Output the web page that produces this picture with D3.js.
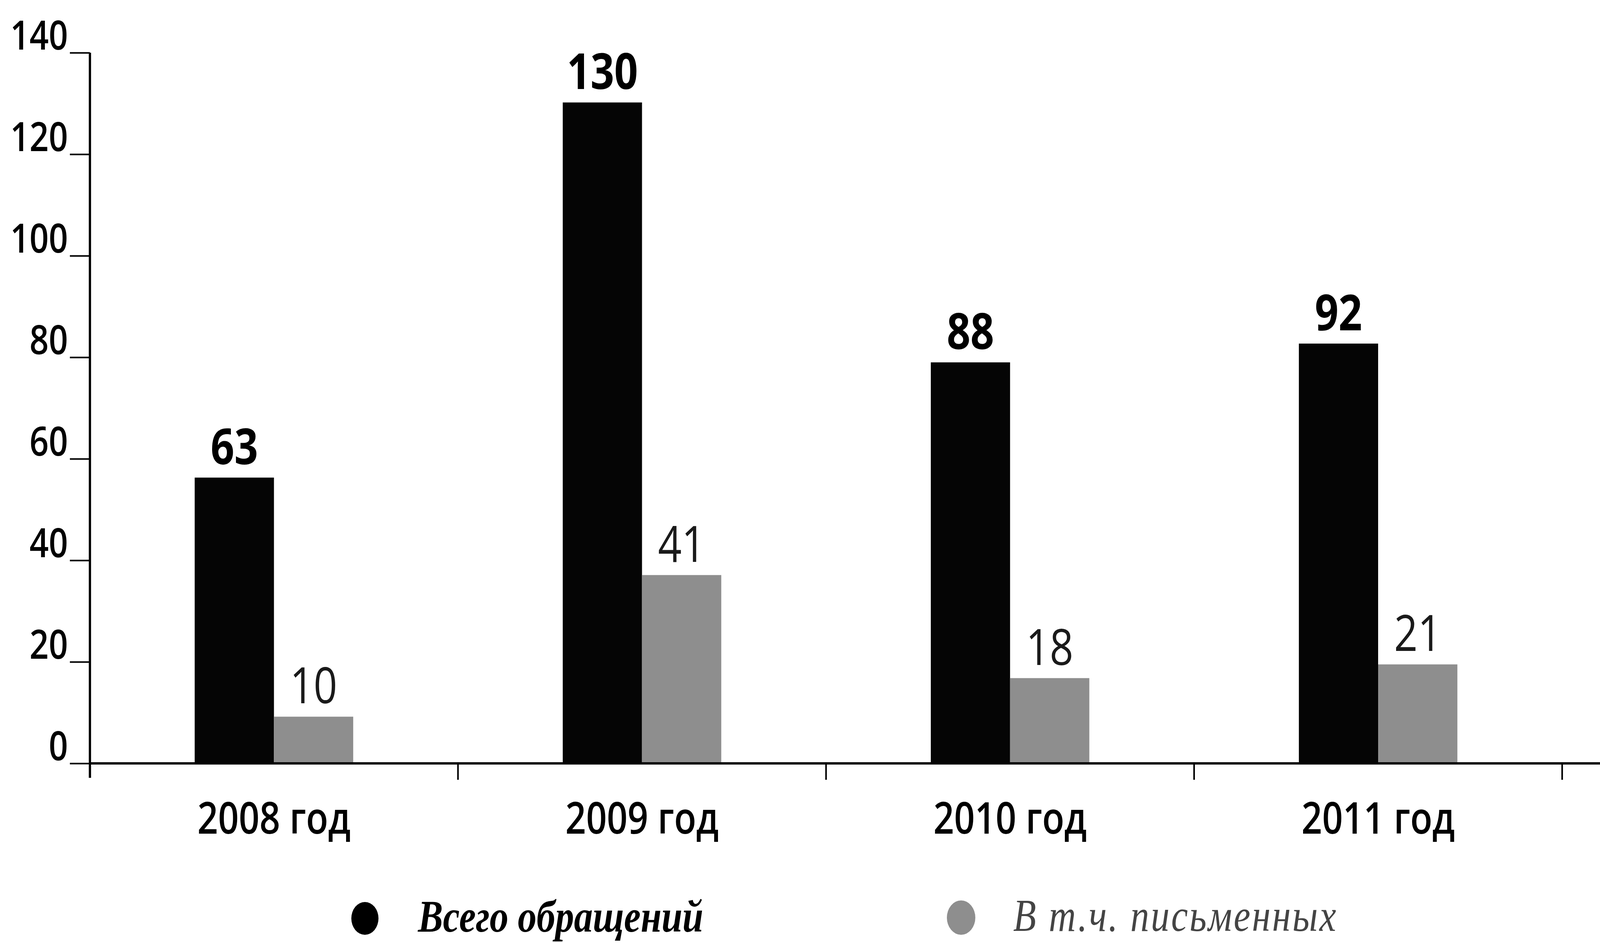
<!DOCTYPE html>
<html>
<head>
<meta charset="utf-8">
<script src="https://cdn.jsdelivr.net/npm/d3@7"></script>
<style>
  html, body { margin: 0; padding: 0; background: #fff; overflow: hidden; }
  svg { display: block; width: 100vw; height: 100vh; }
</style>
</head>
<body>
<script>
// data
var years = ["2008 год", "2009 год", "2010 год", "2011 год"];
// bar heights as drawn (the printed numbers do not always match the bars)
var totalBars = [56.3, 130.2, 79.0, 82.7];
var writtenBars = [9.2, 37.1, 16.8, 19.5];
// printed labels above the bars
var totalLabels = ["63", "130", "88", "92"];
var writtenLabels = ["10", "41", "18", "21"];
var yTicks = [0, 20, 40, 60, 80, 100, 120, 140];
var legendNames = ["Всего обращений", "В т.ч. письменных"];

// drawing in the reference's own pixel units, scaled to the window
var W = 4946, H = 2415;
var svg = d3.select("body").append("svg")
  .attr("viewBox", "0 0 " + W + " " + H)
  .attr("preserveAspectRatio", "none");

var x = d3.scaleBand().domain(years).range([278, 4829]).padding(0);
var y = d3.scaleLinear().domain([0, 140]).range([1955, 135]);
var barW = 245;

// y axis
var yAxis = d3.axisLeft(y).tickValues(yTicks).tickSize(62).tickPadding(6);
var gy = svg.append("g").attr("transform", "translate(278,0)").call(yAxis);
gy.select(".domain").remove();
gy.selectAll(".tick line").attr("stroke", "#000").attr("stroke-width", 4);
gy.selectAll(".tick text")
  .attr("dy", "-0.08em")
  .attr("fill", "#000")
  .style("font-family", "'Open Sans', sans-serif")
  .style("font-weight", 600)
  .style("font-size", "104px");
svg.append("line").attr("x1", 278).attr("x2", 278).attr("y1", y(140)).attr("y2", 1992)
  .attr("stroke", "#000").attr("stroke-width", 7);

// bars
var g = svg.append("g");
g.selectAll(".total").data(years).enter().append("rect")
  .attr("class", "total")
  .attr("x", function(d){ return x(d) + x.bandwidth()/2 - barW; })
  .attr("y", function(d, i){ return y(totalBars[i]); })
  .attr("width", barW)
  .attr("height", function(d, i){ return y(0) - y(totalBars[i]); })
  .attr("fill", "#050505");
g.selectAll(".written").data(years).enter().append("rect")
  .attr("class", "written")
  .attr("x", function(d){ return x(d) + x.bandwidth()/2; })
  .attr("y", function(d, i){ return y(writtenBars[i]); })
  .attr("width", barW)
  .attr("height", function(d, i){ return y(0) - y(writtenBars[i]); })
  .attr("fill", "#8e8e8e");

// value labels
g.selectAll(".tlab").data(years).enter().append("text")
  .attr("x", function(d){ return x(d) + x.bandwidth()/2 - barW/2; })
  .attr("y", function(d, i){ return y(totalBars[i]) - 34; })
  .attr("text-anchor", "middle")
  .style("font-family", "'Open Sans', sans-serif")
  .style("font-weight", 700)
  .style("font-size", "128px")
  .attr("fill", "#000")
  .text(function(d, i){ return totalLabels[i]; });
g.selectAll(".wlab").data(years).enter().append("text")
  .attr("x", function(d){ return x(d) + x.bandwidth()/2 + barW/2; })
  .attr("y", function(d, i){ return y(writtenBars[i]) - 34; })
  .attr("text-anchor", "middle")
  .style("font-family", "'Open Sans', sans-serif")
  .style("font-weight", 400)
  .style("font-size", "128px")
  .attr("fill", "#1a1a1a")
  .text(function(d, i){ return writtenLabels[i]; });

// x axis
svg.append("line").attr("x1", 278).attr("x2", W).attr("y1", y(0)).attr("y2", y(0))
  .attr("stroke", "#000").attr("stroke-width", 6);
var bounds = years.map(function(d){ return x(d) + x.bandwidth(); });
svg.selectAll(".xtick").data(bounds).enter().append("line")
  .attr("x1", function(d){ return d; }).attr("x2", function(d){ return d; })
  .attr("y1", y(0)).attr("y2", y(0) + 42)
  .attr("stroke", "#000").attr("stroke-width", 5);
var xAxis = d3.axisBottom(x).tickSize(0).tickPadding(0);
var gx = svg.append("g").attr("transform", "translate(0,2135)").call(xAxis);
gx.select(".domain").remove();
gx.selectAll(".tick text")
  .attr("dy", 0)
  .attr("fill", "#000")
  .style("font-family", "'Open Sans', sans-serif")
  .style("font-weight", 600)
  .style("font-size", "112px");

// legend
var legend = svg.append("g");
legend.append("circle").attr("cx", 1128).attr("cy", 2352).attr("r", 42).attr("fill", "#000");
legend.append("text").attr("x", 1292).attr("y", 2386)
  .style("font-family", "'Liberation Serif', serif")
  .style("font-style", "italic").style("font-weight", 700)
  .style("font-size", "116px")
  .attr("fill", "#000")
  .text(legendNames[0]);
legend.append("circle").attr("cx", 2971).attr("cy", 2350).attr("r", 44).attr("fill", "#8e8e8e");
legend.append("text").attr("x", 3132).attr("y", 2384)
  .style("font-family", "'Liberation Serif', serif")
  .style("font-style", "italic").style("font-weight", 400)
  .style("font-size", "116px")
  .style("letter-spacing", "5px")
  .attr("fill", "#444")
  .text(legendNames[1]);
</script>
</body>
</html>
